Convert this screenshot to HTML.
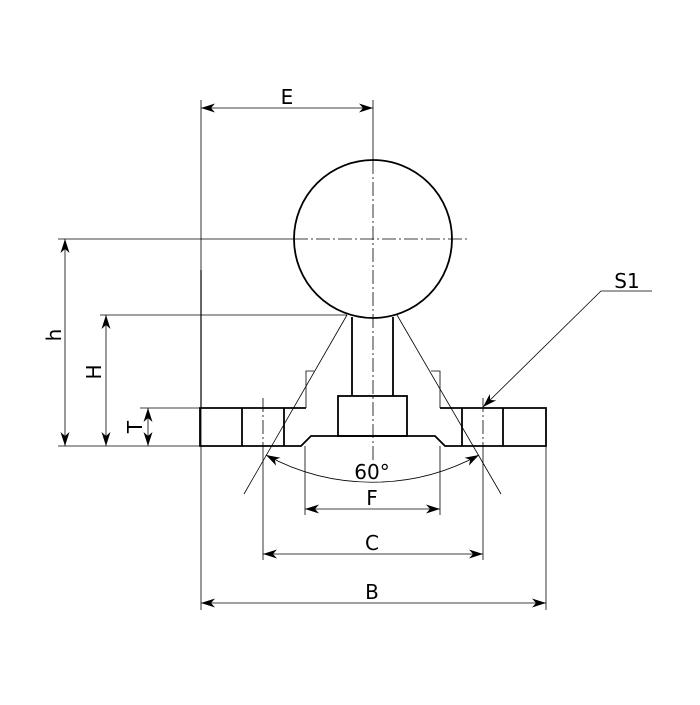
<!DOCTYPE html>
<html><head><style>html,body{margin:0;padding:0;background:#fff}</style></head>
<body>
<svg width="700" height="700" viewBox="0 0 700 700" xmlns="http://www.w3.org/2000/svg">
<defs>
<marker id="a" viewBox="0 0 14 9" refX="14" refY="4.5" markerWidth="14" markerHeight="9" orient="auto-start-reverse" markerUnits="userSpaceOnUse">
<path d="M0,0 L14,4.5 L0,9 L4,4.5 Z" fill="#000"/></marker>
</defs>
<g stroke="#000" fill="none" stroke-width="0.8">
<line x1="201" y1="100" x2="201" y2="610"/>
<line x1="373" y1="100" x2="373" y2="160"/>
<line x1="58" y1="239" x2="294" y2="239"/>
<line x1="100" y1="315" x2="347" y2="315"/>
<line x1="140" y1="408" x2="200" y2="408"/>
<line x1="58" y1="446" x2="200" y2="446"/>
<line x1="263" y1="446" x2="263" y2="560"/>
<line x1="483" y1="446" x2="483" y2="560"/>
<line x1="305" y1="446" x2="305" y2="515"/>
<line x1="440" y1="446" x2="440" y2="515"/>
<line x1="546" y1="446" x2="546" y2="610"/>
<line x1="201" y1="108" x2="373" y2="108" marker-start="url(#a)" marker-end="url(#a)"/>
<line x1="65" y1="239" x2="65" y2="446" marker-start="url(#a)" marker-end="url(#a)"/>
<line x1="106" y1="315" x2="106" y2="446" marker-start="url(#a)" marker-end="url(#a)"/>
<line x1="148" y1="408" x2="148" y2="446" marker-start="url(#a)" marker-end="url(#a)"/>
<line x1="305" y1="509" x2="440" y2="509" marker-start="url(#a)" marker-end="url(#a)"/>
<line x1="263" y1="554" x2="483" y2="554" marker-start="url(#a)" marker-end="url(#a)"/>
<line x1="201" y1="603" x2="546" y2="603" marker-start="url(#a)" marker-end="url(#a)"/>
<path d="M266,455 A222,222 0 0 0 479,455" marker-start="url(#a)" marker-end="url(#a)"/>
<polyline points="652,291 601,291 483,407" marker-end="url(#a)"/>
<line x1="347" y1="315" x2="244" y2="494"/>
<line x1="397" y1="315" x2="501" y2="494"/>
<g stroke-dasharray="14,3,2,3">
<line x1="294" y1="239" x2="468" y2="239"/>
<line x1="373" y1="160" x2="373" y2="462"/>
<line x1="263" y1="398" x2="263" y2="446"/>
<line x1="483" y1="398" x2="483" y2="446"/>
</g>
<polyline points="306,408 306,371 314,371"/>
<polyline points="440,408 440,371 431,371"/>
</g>
<g stroke="#000" fill="none" stroke-width="1.8">
<circle cx="373" cy="239" r="79"/>
<line x1="352" y1="317" x2="352" y2="396"/>
<line x1="393" y1="317" x2="393" y2="396"/>
<rect x="338" y="396" width="69" height="40"/>
<polyline points="306,408 200,408 200,446 301,446 311,436 435,436 445,446 546,446 546,408 440,408"/>
<line x1="242" y1="408" x2="242" y2="446"/>
<line x1="284" y1="408" x2="284" y2="446"/>
<line x1="462" y1="408" x2="462" y2="446"/>
<line x1="503" y1="408" x2="503" y2="446"/>
<line x1="201" y1="270" x2="201" y2="408" stroke-width="1.2"/>
</g>
<g font-family="'DejaVu Sans','Liberation Sans',sans-serif" font-size="20" fill="#000" text-anchor="middle">
<text x="287" y="104">E</text>
<text x="372" y="479">60°</text>
<text x="372" y="505">F</text>
<text x="372" y="550">C</text>
<text x="372" y="599">B</text>
<text x="627" y="288">S1</text>
<text transform="translate(61,335) rotate(-90)">h</text>
<text transform="translate(101,372) rotate(-90)">H</text>
<text transform="translate(142,427) rotate(-90)">T</text>
</g>
</svg>
</body></html>
